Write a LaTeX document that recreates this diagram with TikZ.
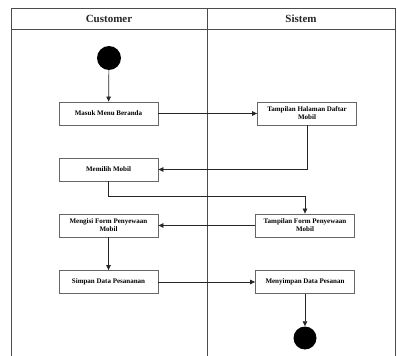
\documentclass[tikz,border=0pt]{standalone}
\usepackage{fontspec}
\setmainfont{Liberation Serif}
\usetikzlibrary{arrows.meta}
\begin{document}
\begin{tikzpicture}[x=1pt,y=-1pt,
  lane/.style={draw=black!70, line width=1pt},
  act/.style={draw=black!60, line width=0.8pt, minimum width=99pt, minimum height=23pt, inner sep=1pt, align=center, font=\fontsize{7}{8}\selectfont\bfseries},
  flow/.style={draw=black!85, line width=0.7pt, -{Triangle[length=5pt,width=4.5pt]}},
  hdr/.style={font=\fontsize{11}{13}\selectfont\bfseries, text=black!85},
  dot/.style={circle, fill=black, inner sep=0pt}]
\useasboundingbox (0,0) rectangle (397,356);
% swimlane frame
\draw[lane] (11,356) -- (11,8) -- (395,8) -- (395,356);
\draw[lane] (11,29) -- (395,29);
\draw[lane] (207,8) -- (207,356);
\node[hdr] (hc) at (109,18.5) {Customer};
\node[hdr] (hs) at (301,18.5) {Sistem};
% nodes
\node[dot, minimum size=24pt] (start) at (109,58) {};
\node[act] (masuk) at (108.5,113.5) {Masuk Menu Beranda};
\node[act] (tampil) at (307,113.5) {Tampilan Halaman Daftar\\Mobil};
\node[act] (pilih) at (108.5,169.5) {Memilih Mobil};
\node[act] (isi) at (108.5,225.5) {Mengisi Form Penyewaan\\Mobil};
\node[act] (tform) at (305,225.5) {Tampilan Form Penyewaan\\Mobil};
\node[act] (simpan) at (108.5,282) {Simpan Data Pesananan};
\node[act] (menyimpan) at (305,282) {Menyimpan Data Pesanan};
\node[dot, minimum size=23pt] (end) at (305,338) {};
% flows
\draw[flow] (start) -- (masuk);
\draw[flow] (masuk) -- (tampil);
\draw[flow] (tampil.south) |- (pilih.east);
\draw[flow] (pilih.south) -- ++(0,15) -| (tform.north);
\draw[flow] (tform) -- (isi);
\draw[flow] (isi) -- (simpan);
\draw[flow] (simpan) -- (menyimpan);
\draw[flow] (menyimpan) -- (end);
\end{tikzpicture}
\end{document}
